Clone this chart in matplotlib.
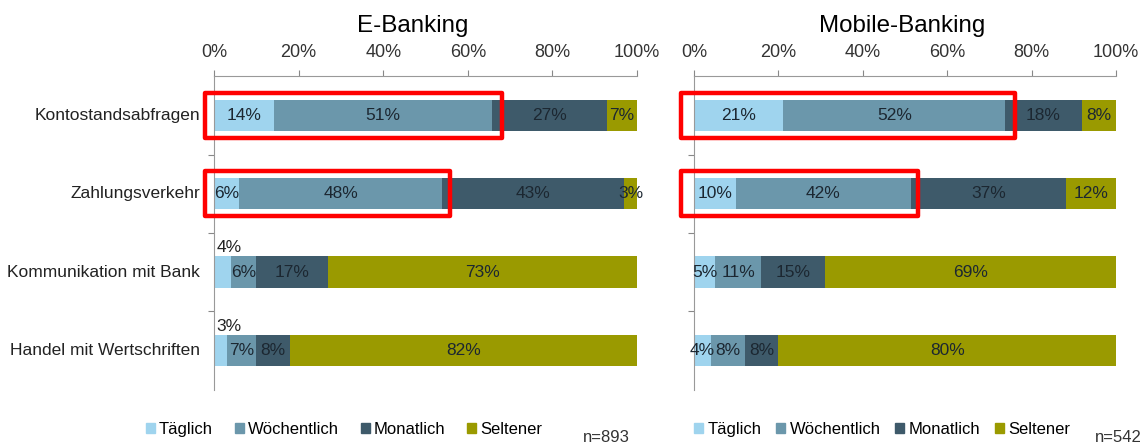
import matplotlib
matplotlib.use("Agg")
import matplotlib.pyplot as plt
from matplotlib.patches import Rectangle, Patch

plt.rcParams['font.family'] = ['Liberation Sans', 'DejaVu Sans']

categories = ["Kontostandsabfragen", "Zahlungsverkehr",
              "Kommunikation mit Bank", "Handel mit Wertschriften"]
series = ["Täglich", "Wöchentlich", "Monatlich", "Seltener"]
colors = ["#9fd4ee", "#6b97ab", "#3e5a6a", "#9a9a00"]

# E-Banking (n=893)
eb_taeglich = [14, 6, 4, 3]
eb_woechentlich = [51, 48, 6, 7]
eb_monatlich = [27, 43, 17, 8]
eb_seltener = [7, 3, 73, 82]

# Mobile-Banking (n=542)
mb_taeglich = [21, 10, 5, 4]
mb_woechentlich = [52, 42, 11, 8]
mb_monatlich = [18, 37, 15, 8]
mb_seltener = [8, 12, 69, 80]

xticks = [0, 20, 40, 60, 80, 100]

# red highlight boxes: (row, x_from, x_to) in percent
eb_boxes = [(0, -2.1, 68.1), (1, -2.1, 55.8)]
mb_boxes = [(0, -3.1, 76.1), (1, -3.1, 53.1)]

fig = plt.figure(figsize=(11.47, 4.45), dpi=100)
ax1 = fig.add_axes([0.1866, 0.124, 0.3688, 0.705])
ax2 = fig.add_axes([0.605, 0.124, 0.368, 0.705])


def draw_panel(ax, data, title, boxes, label_above, title_x, leg_x, colsp):
    n = len(categories)
    totals = [sum(d[i] for d in data) for i in range(n)]
    for i in range(n):
        left = 0
        for j, d in enumerate(data):
            w = d[i] / totals[i] * 100
            ax.barh(i, w, left=left, height=0.4, color=colors[j], edgecolor="none")
            if j == 0 and (i, j) in label_above:
                ax.text(left + 0.5, i - 0.31, f"{d[i]}%", ha="left", va="center",
                        fontsize=12.5, color="#222222")
            else:
                ax.text(left + w / 2, i, f"{d[i]}%", ha="center", va="center",
                        fontsize=12.5, color="#1c2731")
            left += w
    for row, x0, x1 in boxes:
        ax.add_patch(Rectangle((x0, row - 0.29), x1 - x0, 0.58, fill=False,
                               edgecolor="#ff0000", linewidth=3.2,
                               joinstyle="round", clip_on=False, zorder=5))
    ax.set_xlim(0, 100)
    ax.set_ylim(3.5, -0.5)
    ax.xaxis.tick_top()
    ax.set_xticks(xticks)
    ax.set_xticklabels([f"{t}%" for t in xticks], fontsize=13, color="#333333")
    ax.set_yticks([0.5, 1.5, 2.5])
    ax.set_yticklabels([])
    ax.tick_params(axis="x", length=4, color="#888888", pad=7)
    ax.tick_params(axis="y", length=4, color="#888888")
    for s in ["right", "bottom"]:
        ax.spines[s].set_visible(False)
    for s in ["top", "left"]:
        ax.spines[s].set_color("#999999")
    ax.set_title(title, fontsize=17.4, pad=32, x=title_x)
    ax.legend(handles=[Patch(color=c, label=s) for c, s in zip(colors, series)],
              loc="upper left", bbox_to_anchor=(leg_x, -0.055), ncol=4,
              frameon=False, fontsize=12, handlelength=0.55, handleheight=0.6,
              handletextpad=0.25, columnspacing=colsp)


draw_panel(ax1, [eb_taeglich, eb_woechentlich, eb_monatlich, eb_seltener],
           "E-Banking", eb_boxes, {(2, 0), (3, 0)}, 0.47, -0.197, 1.3)
draw_panel(ax2, [mb_taeglich, mb_woechentlich, mb_monatlich, mb_seltener],
           "Mobile-Banking", mb_boxes, set(), 0.493, -0.035, 0.88)

for i, c in enumerate(categories):
    ax1.text(-3.3, i, c, ha="right", va="center", fontsize=12.5, color="#222222")

fig.text(583 / 1147, 1 - 437 / 445, "n=893", fontsize=12, va="center", color="#333333")
fig.text(1095 / 1147, 1 - 437 / 445, "n=542", fontsize=12, va="center", color="#333333")

fig.savefig("out.png", dpi=100)
